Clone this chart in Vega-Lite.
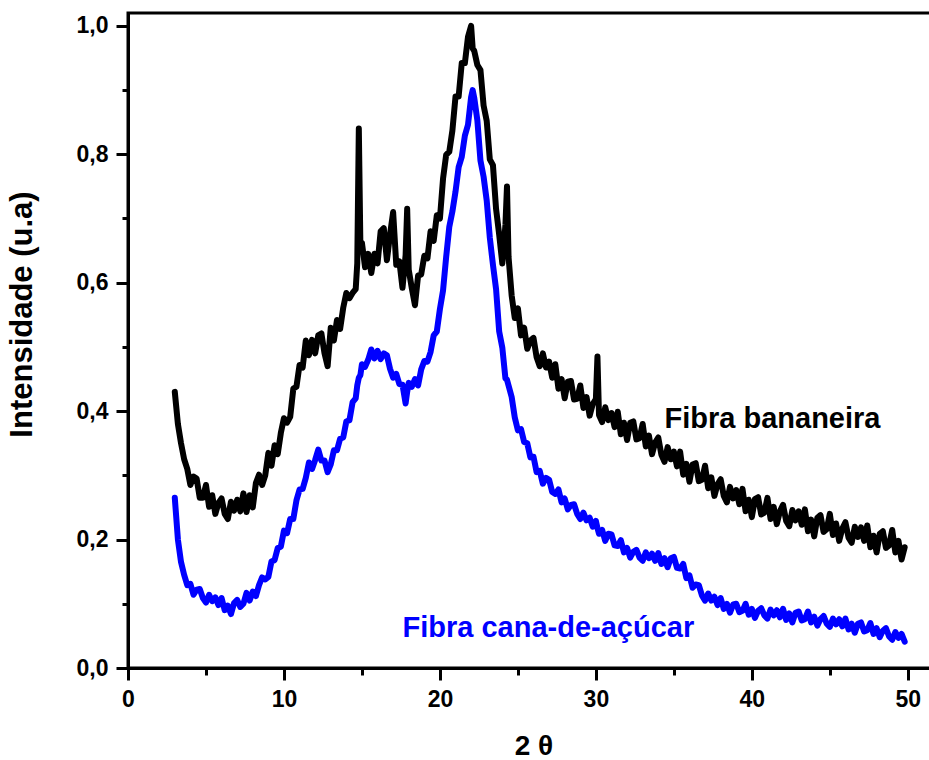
{
"$schema": "https://vega.github.io/schema/vega-lite/v6.json",
"width": 811,
"height": 655,
"autosize": {"type": "none"},
"padding": {"left": 128, "top": 13, "right": 0, "bottom": 92},
"background": "white",
"config": {
  "view": {"stroke": "black", "strokeWidth": 3},
  "axis": {"grid": false, "domainColor": "black", "tickColor": "black", "labelColor": "black", "titleColor": "black", "labelFont": "Liberation Sans", "titleFont": "Liberation Sans"},
  "text": {"font": "Liberation Sans"}
},
"datasets": {
"d": [
{"x":3.0,"b":0.43,"c":0.265},{"x":3.2,"b":0.38,"c":0.2},{"x":3.4,"b":0.35,"c":0.165},{"x":3.6,"b":0.325,"c":0.145},
{"x":3.8,"b":0.31,"c":0.129},{"x":4.0,"b":0.285,"c":0.131},{"x":4.2,"b":0.298,"c":0.114},{"x":4.4,"b":0.295,"c":0.122},
{"x":4.6,"b":0.265,"c":0.123},{"x":4.8,"b":0.265,"c":0.109},{"x":5.0,"b":0.285,"c":0.102},{"x":5.2,"b":0.251,"c":0.114},
{"x":5.4,"b":0.269,"c":0.104},{"x":5.6,"b":0.24,"c":0.11},{"x":5.8,"b":0.257,"c":0.098},{"x":6.0,"b":0.264,"c":0.109},
{"x":6.2,"b":0.24,"c":0.09},{"x":6.4,"b":0.232,"c":0.097},{"x":6.6,"b":0.259,"c":0.084},{"x":6.8,"b":0.245,"c":0.101},
{"x":7.0,"b":0.262,"c":0.106},{"x":7.2,"b":0.244,"c":0.095},{"x":7.4,"b":0.272,"c":0.1},{"x":7.6,"b":0.243,"c":0.117},
{"x":7.8,"b":0.269,"c":0.105},{"x":8.0,"b":0.25,"c":0.119},{"x":8.2,"b":0.288,"c":0.112},{"x":8.4,"b":0.301,"c":0.129},
{"x":8.6,"b":0.285,"c":0.141},{"x":8.8,"b":0.3,"c":0.138},{"x":9.0,"b":0.335,"c":0.142},{"x":9.2,"b":0.315,"c":0.166},
{"x":9.4,"b":0.347,"c":0.168},{"x":9.6,"b":0.333,"c":0.187},{"x":9.8,"b":0.366,"c":0.189},{"x":10.0,"b":0.389,"c":0.214},
{"x":10.2,"b":0.382,"c":0.21},{"x":10.4,"b":0.391,"c":0.232},{"x":10.6,"b":0.435,"c":0.232},{"x":10.8,"b":0.438,"c":0.261},
{"x":11.0,"b":0.472,"c":0.278},{"x":11.2,"b":0.468,"c":0.279},{"x":11.4,"b":0.51,"c":0.296},{"x":11.6,"b":0.487,"c":0.32},
{"x":11.8,"b":0.511,"c":0.31},{"x":12.0,"b":0.49,"c":0.324},{"x":12.2,"b":0.518,"c":0.34},{"x":12.4,"b":0.521,"c":0.323},
{"x":12.6,"b":0.49,"c":0.323},{"x":12.8,"b":0.47,"c":0.305},{"x":13.0,"b":0.53,"c":0.317},{"x":13.2,"b":0.51,"c":0.339},
{"x":13.4,"b":0.542,"c":0.339},{"x":13.6,"b":0.528,"c":0.357},{"x":13.8,"b":0.561,"c":0.359},{"x":14.0,"b":0.584,"c":0.384},
{"x":14.2,"b":0.576,"c":0.386},{"x":14.4,"b":0.584,"c":0.414},{"x":14.6,"b":0.59,"c":0.42},{"x":14.7,"b":0.63,"c":0.44},
{"x":14.8,"b":0.84,"c":0.452},{"x":14.9,"b":0.66,"c":0.456},{"x":15.0,"b":0.662,"c":0.473},{"x":15.2,"b":0.624,"c":0.469},
{"x":15.4,"b":0.645,"c":0.48},{"x":15.6,"b":0.615,"c":0.496},{"x":15.8,"b":0.645,"c":0.482},{"x":16.0,"b":0.63,"c":0.494},
{"x":16.2,"b":0.68,"c":0.481},{"x":16.4,"b":0.685,"c":0.49},{"x":16.6,"b":0.635,"c":0.487},{"x":16.8,"b":0.675,"c":0.466},
{"x":17.0,"b":0.71,"c":0.452},{"x":17.2,"b":0.628,"c":0.458},{"x":17.4,"b":0.633,"c":0.442},{"x":17.6,"b":0.592,"c":0.441},
{"x":17.8,"b":0.643,"c":0.412},{"x":17.9,"b":0.715,"c":0.43},{"x":18.0,"b":0.62,"c":0.444},{"x":18.2,"b":0.591,"c":0.438},
{"x":18.4,"b":0.565,"c":0.45},{"x":18.6,"b":0.611,"c":0.44},{"x":18.8,"b":0.613,"c":0.465},{"x":19.0,"b":0.642,"c":0.478},
{"x":19.2,"b":0.638,"c":0.477},{"x":19.4,"b":0.68,"c":0.492},{"x":19.6,"b":0.665,"c":0.518},{"x":19.8,"b":0.705,"c":0.524},
{"x":20.0,"b":0.7,"c":0.559},{"x":20.2,"b":0.762,"c":0.588},{"x":20.4,"b":0.799,"c":0.64},{"x":20.6,"b":0.804,"c":0.687},
{"x":20.8,"b":0.837,"c":0.711},{"x":21.0,"b":0.89,"c":0.742},{"x":21.2,"b":0.89,"c":0.78},{"x":21.4,"b":0.942,"c":0.796},
{"x":21.6,"b":0.942,"c":0.829},{"x":21.8,"b":0.983,"c":0.846},{"x":22.0,"b":1.0,"c":0.889},{"x":22.1,"b":0.965,"c":0.9},
{"x":22.2,"b":0.961,"c":0.888},{"x":22.4,"b":0.939,"c":0.853},{"x":22.6,"b":0.931,"c":0.79},{"x":22.8,"b":0.876,"c":0.765},
{"x":23.0,"b":0.852,"c":0.728},{"x":23.2,"b":0.792,"c":0.67},{"x":23.4,"b":0.783,"c":0.628},{"x":23.6,"b":0.715,"c":0.59},
{"x":23.8,"b":0.675,"c":0.524},{"x":24.0,"b":0.63,"c":0.499},{"x":24.2,"b":0.69,"c":0.451},{"x":24.3,"b":0.75,"c":0.449},
{"x":24.4,"b":0.64,"c":0.44},{"x":24.6,"b":0.58,"c":0.422},{"x":24.8,"b":0.545,"c":0.39},{"x":25.0,"b":0.56,"c":0.37},
{"x":25.2,"b":0.518,"c":0.372},{"x":25.4,"b":0.53,"c":0.352},{"x":25.6,"b":0.497,"c":0.35},{"x":25.8,"b":0.51,"c":0.328},
{"x":26.0,"b":0.514,"c":0.329},{"x":26.2,"b":0.484,"c":0.305},{"x":26.4,"b":0.47,"c":0.307},{"x":26.6,"b":0.49,"c":0.287},
{"x":26.8,"b":0.468,"c":0.296},{"x":27.0,"b":0.477,"c":0.293},{"x":27.2,"b":0.452,"c":0.274},{"x":27.4,"b":0.473,"c":0.271},
{"x":27.6,"b":0.435,"c":0.278},{"x":27.8,"b":0.45,"c":0.258},{"x":28.0,"b":0.42,"c":0.264},{"x":28.2,"b":0.446,"c":0.247},
{"x":28.4,"b":0.447,"c":0.254},{"x":28.6,"b":0.418,"c":0.255},{"x":28.8,"b":0.419,"c":0.24},{"x":29.0,"b":0.44,"c":0.232},
{"x":29.2,"b":0.405,"c":0.242},{"x":29.4,"b":0.422,"c":0.23},{"x":29.6,"b":0.393,"c":0.234},{"x":29.8,"b":0.411,"c":0.22},
{"x":30.0,"b":0.419,"c":0.229},{"x":30.1,"b":0.485,"c":0.218},{"x":30.2,"b":0.394,"c":0.209},{"x":30.4,"b":0.383,"c":0.215},
{"x":30.6,"b":0.406,"c":0.198},{"x":30.8,"b":0.386,"c":0.209},{"x":31.0,"b":0.397,"c":0.208},{"x":31.2,"b":0.375,"c":0.191},
{"x":31.4,"b":0.399,"c":0.19},{"x":31.6,"b":0.364,"c":0.199},{"x":31.8,"b":0.382,"c":0.18},{"x":32.0,"b":0.355,"c":0.187},
{"x":32.2,"b":0.382,"c":0.172},{"x":32.4,"b":0.384,"c":0.181},{"x":32.6,"b":0.356,"c":0.184},{"x":32.8,"b":0.358,"c":0.172},
{"x":33.0,"b":0.38,"c":0.167},{"x":33.2,"b":0.345,"c":0.18},{"x":33.4,"b":0.362,"c":0.171},{"x":33.6,"b":0.333,"c":0.178},
{"x":33.8,"b":0.351,"c":0.167},{"x":34.0,"b":0.359,"c":0.179},{"x":34.2,"b":0.332,"c":0.162},{"x":34.4,"b":0.321,"c":0.171},
{"x":34.6,"b":0.344,"c":0.157},{"x":34.8,"b":0.325,"c":0.171},{"x":35.0,"b":0.337,"c":0.173},{"x":35.2,"b":0.314,"c":0.156},
{"x":35.4,"b":0.337,"c":0.155},{"x":35.6,"b":0.301,"c":0.162},{"x":35.8,"b":0.318,"c":0.14},{"x":36.0,"b":0.29,"c":0.144},
{"x":36.2,"b":0.317,"c":0.125},{"x":36.4,"b":0.319,"c":0.13},{"x":36.6,"b":0.291,"c":0.129},{"x":36.8,"b":0.293,"c":0.113},
{"x":37.0,"b":0.315,"c":0.105},{"x":37.2,"b":0.28,"c":0.116},{"x":37.4,"b":0.297,"c":0.105},{"x":37.6,"b":0.268,"c":0.111},
{"x":37.8,"b":0.286,"c":0.098},{"x":38.0,"b":0.294,"c":0.109},{"x":38.2,"b":0.268,"c":0.092},{"x":38.4,"b":0.258,"c":0.1},
{"x":38.6,"b":0.282,"c":0.086},{"x":38.8,"b":0.264,"c":0.099},{"x":39.0,"b":0.277,"c":0.1},{"x":39.2,"b":0.255,"c":0.087},
{"x":39.4,"b":0.279,"c":0.089},{"x":39.6,"b":0.244,"c":0.1},{"x":39.8,"b":0.262,"c":0.083},{"x":40.0,"b":0.235,"c":0.092},
{"x":40.2,"b":0.263,"c":0.078},{"x":40.4,"b":0.266,"c":0.089},{"x":40.6,"b":0.239,"c":0.093},{"x":40.8,"b":0.242,"c":0.082},
{"x":41.0,"b":0.265,"c":0.077},{"x":41.2,"b":0.232,"c":0.091},{"x":41.4,"b":0.251,"c":0.082},{"x":41.6,"b":0.224,"c":0.09},
{"x":41.8,"b":0.244,"c":0.079},{"x":42.0,"b":0.254,"c":0.092},{"x":42.2,"b":0.229,"c":0.075},{"x":42.4,"b":0.221,"c":0.085},
{"x":42.6,"b":0.246,"c":0.071},{"x":42.8,"b":0.23,"c":0.086},{"x":43.0,"b":0.244,"c":0.088},{"x":43.2,"b":0.223,"c":0.074},
{"x":43.4,"b":0.247,"c":0.076},{"x":43.6,"b":0.213,"c":0.088},{"x":43.8,"b":0.231,"c":0.071},{"x":44.0,"b":0.205,"c":0.08},
{"x":44.2,"b":0.234,"c":0.066},{"x":44.4,"b":0.238,"c":0.076},{"x":44.6,"b":0.212,"c":0.081},{"x":44.8,"b":0.216,"c":0.069},
{"x":45.0,"b":0.24,"c":0.064},{"x":45.2,"b":0.207,"c":0.077},{"x":45.4,"b":0.225,"c":0.068},{"x":45.6,"b":0.198,"c":0.076},
{"x":45.8,"b":0.217,"c":0.065},{"x":46.0,"b":0.227,"c":0.077},{"x":46.2,"b":0.203,"c":0.06},{"x":46.4,"b":0.195,"c":0.069},
{"x":46.6,"b":0.22,"c":0.055},{"x":46.8,"b":0.204,"c":0.069},{"x":47.0,"b":0.219,"c":0.071},{"x":47.2,"b":0.198,"c":0.057},
{"x":47.4,"b":0.222,"c":0.059},{"x":47.6,"b":0.188,"c":0.07},{"x":47.8,"b":0.206,"c":0.053},{"x":48.0,"b":0.18,"c":0.062},
{"x":48.2,"b":0.209,"c":0.048},{"x":48.4,"b":0.213,"c":0.058},{"x":48.6,"b":0.187,"c":0.062},{"x":48.8,"b":0.191,"c":0.049},
{"x":49.0,"b":0.215,"c":0.044},{"x":49.2,"b":0.18,"c":0.056},{"x":49.4,"b":0.198,"c":0.047},{"x":49.6,"b":0.169,"c":0.053},
{"x":49.8,"b":0.188,"c":0.041}
],
"labels": [
{"x":34.4,"y":0.374,"t":"Fibra bananeira","s":"banana"},
{"x":17.6,"y":0.048,"t":"Fibra cana-de-açúcar","s":"cana"}
]
},
"resolve": {"axis": {"x": "independent", "y": "independent"}},
"layer": [
  {
    "data": {"name": "d"},
    "mark": {"type": "line", "color": "black", "strokeWidth": 6, "strokeJoin": "round", "strokeCap": "round"},
    "encoding": {
      "x": {"field": "x", "type": "quantitative", "scale": {"domain": [0, 52], "nice": false, "zero": false},
        "axis": {"orient": "bottom", "values": [0, 10, 20, 30, 40, 50], "title": "2 θ", "titleFontSize": 28, "titleFontWeight": "bold", "titleY": 86, "titleBaseline": "alphabetic",
          "labelFontSize": 23, "labelFontWeight": "bold", "labelPadding": 8, "tickSize": 12, "tickWidth": 3, "domainWidth": 3, "labelFlush": false, "labelOverlap": false}},
      "y": {"field": "b", "type": "quantitative", "scale": {"domain": [0, 1.02], "nice": false, "zero": false},
        "axis": {"orient": "left", "values": [0, 0.2, 0.4, 0.6, 0.8, 1.0], "labelExpr": "replace(format(datum.value, '.1f'), '.', ',')", "title": "Intensidade (u.a)", "titleFontSize": 31, "titleFontWeight": "bold", "titleX": -90, "titleY": 301, "titleBaseline": "bottom",
          "labelFontSize": 23, "labelFontWeight": "bold", "labelPadding": 8, "tickSize": 12, "tickWidth": 3, "domainWidth": 3, "labelFlush": false, "labelOverlap": false}}
    }
  },
  {
    "data": {"name": "d"},
    "mark": {"type": "line", "color": "#0000ff", "strokeWidth": 6, "strokeJoin": "round", "strokeCap": "round"},
    "encoding": {
      "x": {"field": "x", "type": "quantitative",
        "axis": {"orient": "bottom", "values": [5, 15, 25, 35, 45], "labels": false, "domain": false, "title": null, "tickSize": 7, "tickWidth": 3}},
      "y": {"field": "c", "type": "quantitative",
        "axis": {"orient": "left", "values": [0.1, 0.3, 0.5, 0.7, 0.9], "labels": false, "domain": false, "title": null, "tickSize": 6, "tickWidth": 3}}
    }
  },
  {
    "data": {"name": "labels"},
    "mark": {"type": "text", "align": "left", "baseline": "alphabetic", "fontSize": 29, "fontWeight": "bold"},
    "encoding": {
      "x": {"field": "x", "type": "quantitative", "axis": null},
      "y": {"field": "y", "type": "quantitative", "axis": null},
      "text": {"field": "t"},
      "color": {"field": "s", "type": "nominal", "scale": {"domain": ["banana", "cana"], "range": ["black", "#0000ff"]}, "legend": null}
    }
  }
]
}
